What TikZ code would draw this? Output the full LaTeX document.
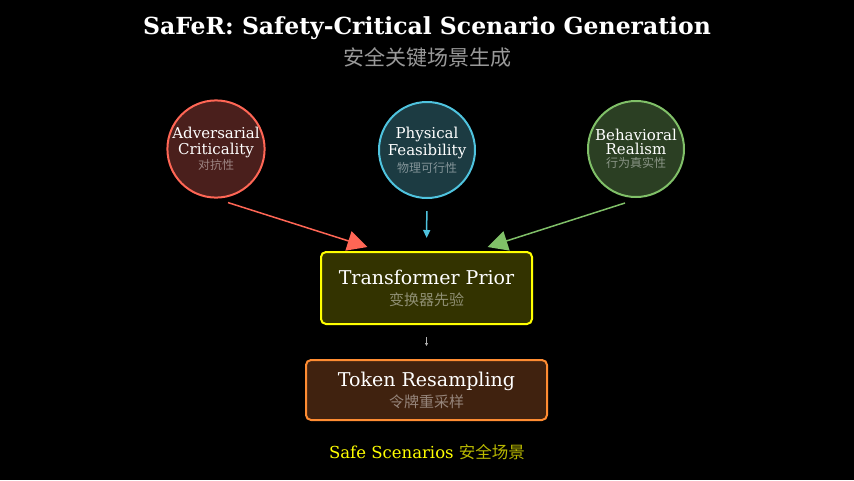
\documentclass[tikz,border=0pt]{standalone}
\usepackage{fontspec}
\setmainfont{DejaVu Serif}
\newfontfamily\cjk{Noto Sans CJK SC}
\usetikzlibrary{positioning,arrows.meta}

\definecolor{advline}{HTML}{FF6655}
\definecolor{advfill}{HTML}{4A1F1C}
\definecolor{phyline}{HTML}{4FC3DE}
\definecolor{phyfill}{HTML}{1C3B42}
\definecolor{behline}{HTML}{80C068}
\definecolor{behfill}{HTML}{2B3F23}
\definecolor{priorline}{HTML}{FFFF00}
\definecolor{priorfill}{HTML}{333300}
\definecolor{tokline}{HTML}{FF8C32}
\definecolor{tokfill}{HTML}{40220F}
\definecolor{subgray}{HTML}{999999}
\definecolor{outcjk}{HTML}{B8B800}

\newcommand{\cjksub}[3]{{\cjk\fontsize{#1}{#1}\selectfont\color{white!45!#2}#3}}

\begin{document}
\begin{tikzpicture}[
        x=1pt, y=-1pt,
        goal/.style={circle, draw, line width=2pt, minimum size=96pt, inner sep=0pt,
            align=center, text=white, font=\fontsize{15}{16}\selectfont},
        stage/.style={draw, rounded corners=5pt, line width=2pt, align=center, text=white,
            font=\fontsize{19}{21}\selectfont},
        sub/.style={font=\cjk\fontsize{#1}{#1}\selectfont, text=subgray},
        arr/.style={line width=1.5pt, -{Triangle[length=20pt, width=20pt]}},
    ]
        % background
        \fill[black] (0,0) rectangle (854,480);
        \useasboundingbox (0,0) rectangle (854,480);

        % heading
        \node[text=white, font=\fontsize{23.5}{26}\selectfont\bfseries] (title) at (427,28.5)
            {SaFeR: Safety-Critical Scenario Generation};
        \node[sub=21] (subtitle) at (427,57) {安全关键场景生成};

        % three objectives
        \node[goal, draw=advline, fill=advfill] (adv) at (216,149)
            {Adversarial\\ Criticality\\[-1pt] \cjksub{12}{advfill}{对抗性}};
        \node[goal, draw=phyline, fill=phyfill] (phy) at (427,150)
            {Physical\\[1pt] Feasibility\\[1pt] \cjksub{12}{phyfill}{物理可行性}};
        \node[goal, draw=behline, fill=behfill] (beh) at (636,149)
            {Behavioral\\[-2pt] Realism\\[-3pt] \cjksub{12}{behfill}{行为真实性}};

        % model stages
        \node[stage, draw=priorline, fill=priorfill, minimum width=211pt, minimum height=72pt]
            (prior) at (426.5,288)
            {Transformer Prior\\ \cjksub{15}{priorfill}{变换器先验}};
        \node[stage, draw=tokline, fill=tokfill, minimum width=241pt, minimum height=60pt]
            (resample) at (426.5,390)
            {Token Resampling\\ \cjksub{15}{tokfill}{令牌重采样}};

        % output
        \node[text=priorline, font=\fontsize{16.5}{18}\selectfont] (safe) at (427,452)
            {Safe Scenarios {\cjk\color{outcjk}安全场景}};

        \draw[arr, advline] ([xshift=12pt, yshift=-4pt]adv.south) -- ([xshift=-59pt, yshift=4pt]prior.north);
        \draw[phyline, line width=1.5pt, -{Triangle[length=8pt, width=7pt]},
            shorten <=12pt, shorten >=13pt] (phy) -- (prior);
        \draw[arr, behline] ([xshift=-11pt, yshift=-5pt]beh.south) -- ([xshift=61pt, yshift=4pt]prior.north);
        \draw[white!70!black, line width=1pt, -{Triangle[length=3pt, width=3pt]},
            shorten <=12pt, shorten >=13pt] (prior) -- (resample);
    \end{tikzpicture}
\end{document}
